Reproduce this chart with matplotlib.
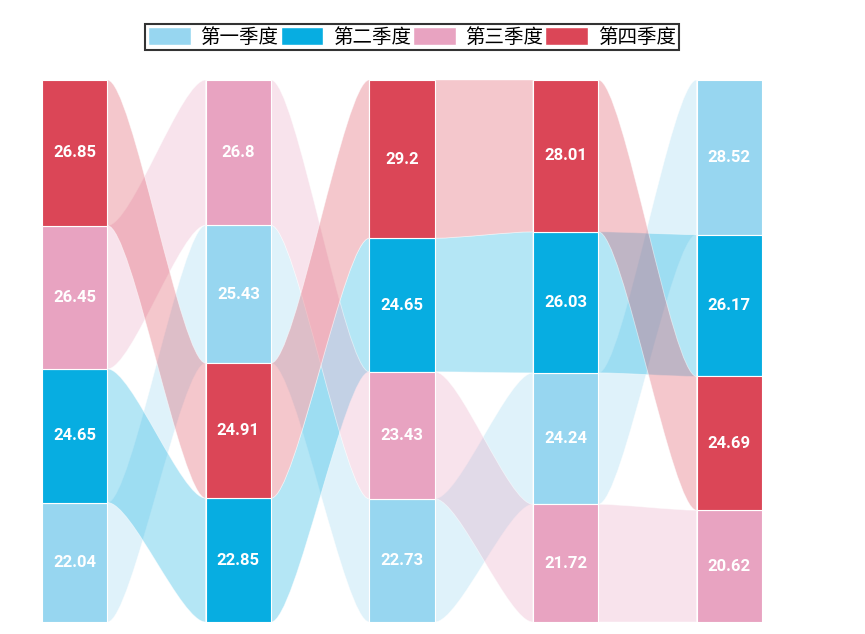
import numpy as np
import matplotlib.pyplot as plt
from matplotlib.path import Path
from matplotlib.patches import PathPatch, Patch
from matplotlib.colors import to_rgba

plt.rcParams['font.family'] = ['Noto Sans CJK SC', 'DejaVu Sans']

series = ['第一季度', '第二季度', '第三季度', '第四季度']
colors = ['#97d6f0', '#07ade1', '#e8a3c1', '#db4657']

# values per column, in series order (第一, 第二, 第三, 第四)
col1 = [22.04, 24.65, 26.45, 26.85]
col2 = [25.43, 22.85, 26.8, 24.91]
col3 = [22.73, 24.65, 23.43, 29.2]
col4 = [24.24, 26.03, 21.72, 28.01]
col5 = [28.52, 26.17, 20.62, 24.69]
columns = [col1, col2, col3, col4, col5]

bar_w = 0.4
curve = 0.25

fig = plt.figure(figsize=(8.65, 6.34), dpi=100)
ax = fig.add_axes([42 / 865, 12 / 634, 720 / 865, 542 / 634])

# stack each column with the largest value on top
spans = []
for vals in columns:
    order = np.argsort(vals)  # smallest first -> bottom
    pos = {}
    bottom = 0.0
    for k in order:
        pos[k] = (bottom, bottom + vals[k])
        bottom += vals[k]
    spans.append(pos)

# ribbons between neighbouring columns
for i in range(len(columns) - 1):
    x0 = i + bar_w / 2
    x1 = i + 1 - bar_w / 2
    ca = x0 + (x1 - x0) * curve
    cb = x1 - (x1 - x0) * curve
    for k in range(len(series)):
        b0, t0 = spans[i][k]
        b1, t1 = spans[i + 1][k]
        verts = [(x0, t0), (ca, t0), (cb, t1), (x1, t1),
                 (x1, b1), (cb, b1), (ca, b0), (x0, b0), (x0, t0)]
        codes = [Path.MOVETO, Path.CURVE4, Path.CURVE4, Path.CURVE4,
                 Path.LINETO, Path.CURVE4, Path.CURVE4, Path.CURVE4,
                 Path.CLOSEPOLY]
        ax.add_patch(PathPatch(Path(verts, codes), facecolor=to_rgba(colors[k], 0.3),
                               edgecolor=(1, 1, 1, 0.5), linewidth=0.6, zorder=1))

# bars and labels
for i, vals in enumerate(columns):
    for k, v in enumerate(vals):
        b, t = spans[i][k]
        ax.bar(i, v, bottom=b, width=bar_w, color=colors[k],
               edgecolor='white', linewidth=0.8, zorder=2)
        ax.text(i, (b + t) / 2, f'{v:g}', ha='center', va='center',
                color='white', fontsize=12, fontweight='bold',
                family=['Roboto', 'DejaVu Sans'], zorder=3)

ax.set_xlim(-bar_w / 2, len(columns) - 1 + bar_w / 2)
ax.set_ylim(0, 100)
ax.axis('off')

handles = [Patch(facecolor=c, edgecolor='white') for c in colors]
leg = fig.legend(handles, series, loc='center', bbox_to_anchor=(412 / 865, 1 - 37 / 634),
                 ncol=4, fontsize=14, frameon=True, fancybox=False,
                 handlelength=2.2, handleheight=1.05, handletextpad=0.5,
                 columnspacing=0.1, borderpad=0.15, borderaxespad=0)
leg.get_frame().set_edgecolor('black')
leg.get_frame().set_linewidth(1.5)

fig.savefig('out.png', dpi=100)
